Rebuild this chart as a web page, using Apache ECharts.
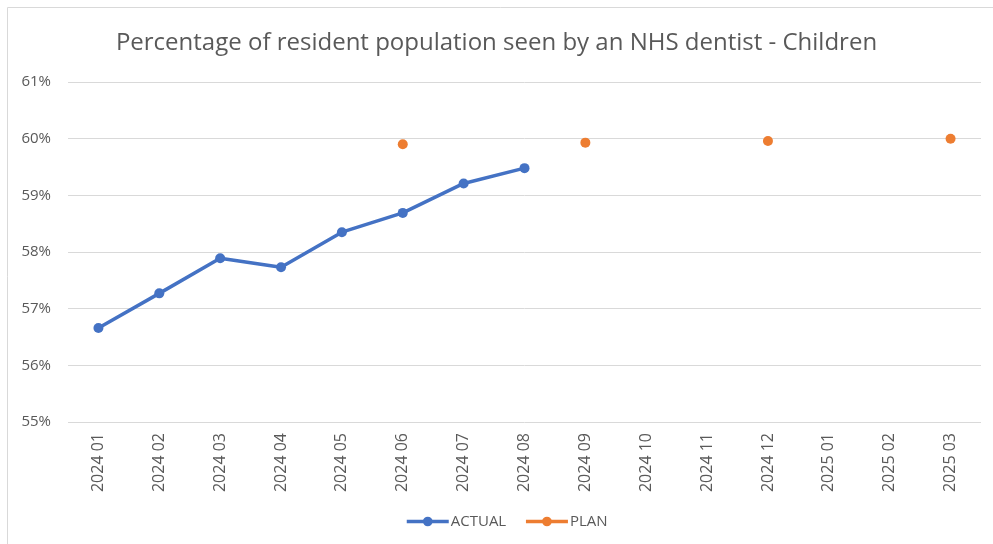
<!DOCTYPE html>
<html>
<head>
<meta charset="utf-8">
<script src="https://cdn.jsdelivr.net/npm/echarts@6/dist/echarts.min.js"></script>
<style>
  html, body { margin: 0; padding: 0; background: #fff; }
  #chart { width: 993px; height: 544px; }
</style>
</head>
<body>
<div id="chart"></div>
<script>
const months = ['2024 01', '2024 02', '2024 03', '2024 04', '2024 05', '2024 06', '2024 07', '2024 08',
  '2024 09', '2024 10', '2024 11', '2024 12', '2025 01', '2025 02', '2025 03']
const actual = [56.66, 57.27, 57.89, 57.73, 58.35, 58.69, 59.21, 59.48, null, null, null, null, null, null, null]
const plan = [null, null, null, null, null, 59.90, null, null, 59.93, null, null, 59.96, null, null, 60.00]

const chart = echarts.init(document.getElementById('chart'))
const textColor = '#595959'

chart.setOption({
  animation: false,
  title: {
    text: 'Percentage of resident population seen by an NHS dentist - Children',
    left: 'center',
    top: 26,
    textStyle: { fontFamily: 'Open Sans', fontSize: 24, fontWeight: 'normal', color: textColor }
  },
  graphic: [{
    type: 'rect',
    shape: { x: 7.5, y: 7.5, width: 1000, height: 600 },
    style: { fill: 'none', stroke: '#d9d9d9', lineWidth: 1 },
    silent: true
  }],
  legend: {
    bottom: 10,
    left: 400,
    itemGap: 18,
    itemWidth: 42,
    itemHeight: 12,
    lineStyle: { width: 3.5 },
    textStyle: { fontFamily: 'Open Sans', fontSize: 15, color: textColor, padding: [0, 0, 0, -3] },
    data: ['ACTUAL', 'PLAN']
  },
  grid: { left: 68, right: 12, top: 82, bottom: 122 },
  xAxis: {
    type: 'category',
    data: months,
    boundaryGap: true,
    axisLine: { show: false },
    axisTick: { show: false },
    axisLabel: { rotate: 90, color: textColor, fontFamily: 'Open Sans', fontSize: 16, margin: 11 }
  },
  yAxis: {
    type: 'value',
    min: 55,
    max: 61,
    interval: 1,
    axisLine: { show: false },
    axisTick: { show: false },
    splitLine: { lineStyle: { color: '#d9d9d9', width: 1 } },
    axisLabel: { formatter: '{value}%', color: textColor, fontFamily: 'Open Sans', fontSize: 15, margin: 17 }
  },
  series: [
    {
      name: 'ACTUAL',
      type: 'line',
      data: actual,
      symbol: 'circle',
      symbolSize: 10,
      color: '#4472c4',
      lineStyle: { width: 3.5 },
      connectNulls: false
    },
    {
      name: 'PLAN',
      type: 'line',
      data: plan,
      symbol: 'circle',
      symbolSize: 10,
      color: '#ed7d31',
      lineStyle: { width: 3.5 },
      connectNulls: false
    }
  ]
})
</script>
</body>
</html>
